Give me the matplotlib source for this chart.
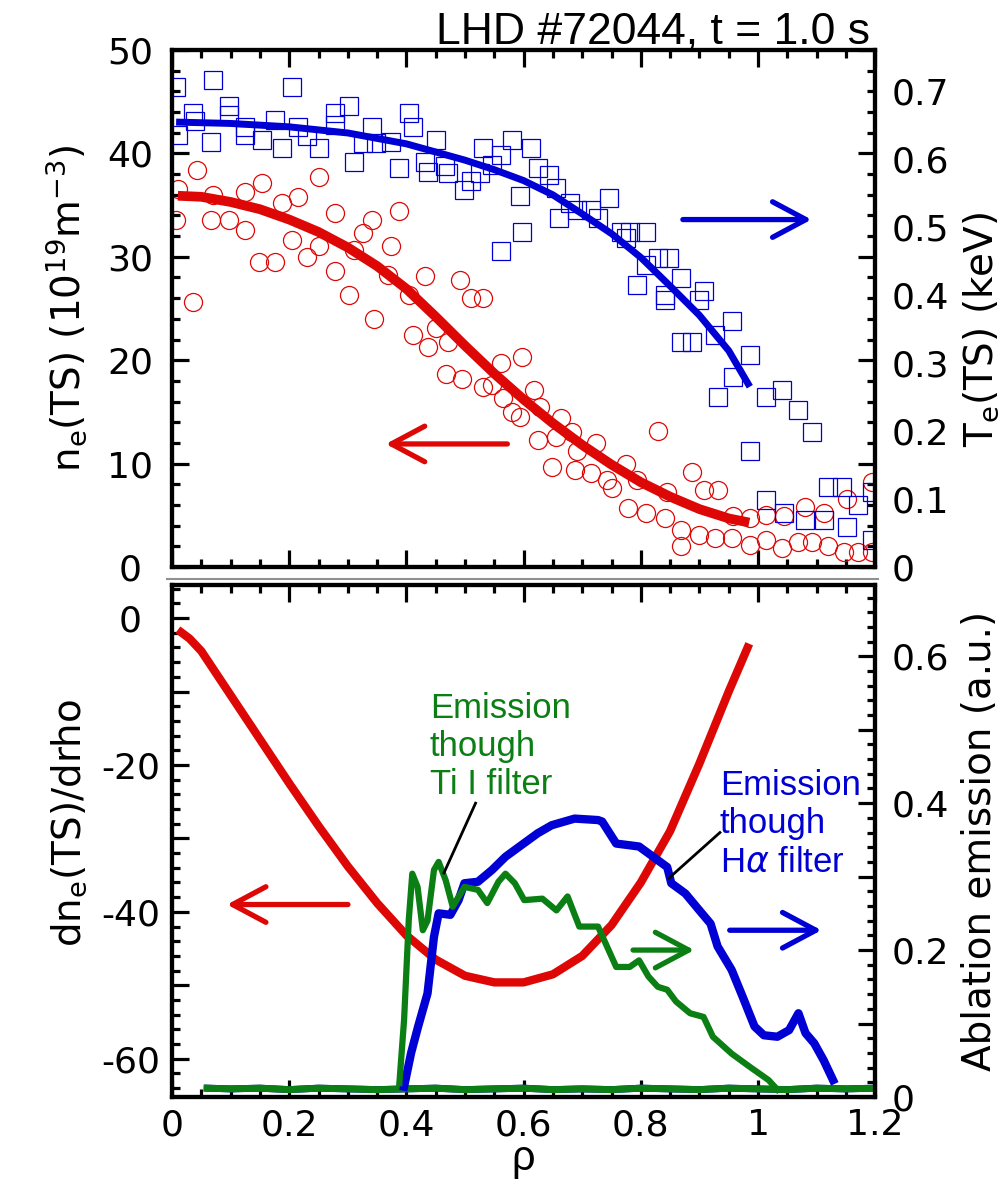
import numpy as np
import matplotlib
matplotlib.use("Agg")
import matplotlib.pyplot as plt
import matplotlib.ticker as ticker
from matplotlib.lines import Line2D

plt.rcParams['font.family'] = ['Liberation Sans', 'DejaVu Sans']

RED = "#DD0806"
BLUE = "#0000D4"
GREEN = "#0B7F14"
TICKFONT = 'DejaVu Sans'
LABELFONT = 'DejaVu Sans'

# ---- top panel: Thomson scattering data (rho, n_e) and (rho, T_e)
ne_rho = [0.042, 0.011, 0.007, 0.070, 0.066, 0.097, 0.125, 0.125, 0.153, 0.188, 0.215, 0.251,
          0.278, 0.341, 0.326, 0.388, 0.204, 0.231, 0.251, 0.149, 0.176, 0.278, 0.310, 0.373,
          0.432, 0.491, 0.302, 0.035, 0.510, 0.530, 0.404, 0.369, 0.345, 0.412, 0.436, 0.451,
          0.471, 0.561, 0.597, 0.467, 0.495, 0.530, 0.546, 0.565, 0.581, 0.593, 0.617, 0.628,
          0.664, 0.683, 0.656, 0.624, 0.691, 0.723, 0.648, 0.687, 0.715, 0.742, 0.750, 0.774,
          0.793, 0.778, 0.809, 0.829, 0.845, 0.841, 0.868, 0.868, 0.888, 0.900, 0.908, 0.931,
          0.927, 0.955, 0.958, 0.986, 0.986, 1.014, 1.014, 1.041, 1.045, 1.069, 1.081, 1.092,
          1.112, 1.120, 1.147, 1.151, 1.171, 1.194, 1.194]
ne_val = [38.4, 36.6, 33.6, 36.0, 33.6, 33.6, 32.6, 36.3, 37.1, 35.2, 35.8, 37.7,
          34.2, 33.6, 32.3, 34.4, 31.6, 30.0, 31.0, 29.5, 29.5, 28.6, 30.7, 31.0,
          28.1, 27.8, 26.3, 25.6, 26.0, 26.0, 26.3, 28.2, 24.0, 22.4, 21.3, 23.1,
          21.8, 19.7, 20.3, 18.7, 18.2, 17.4, 17.6, 16.3, 15.0, 14.5, 17.1, 15.5,
          14.4, 13.1, 12.6, 12.3, 11.2, 12.0, 9.7, 9.4, 9.1, 8.4, 7.6, 10.0,
          8.4, 5.7, 5.2, 13.2, 7.3, 4.7, 3.6, 2.0, 9.2, 3.1, 7.4, 7.4,
          2.8, 2.8, 4.9, 2.1, 4.7, 2.6, 5.0, 1.8, 4.9, 2.4, 5.8, 2.4,
          5.2, 2.0, 1.5, 6.6, 1.5, 8.2, 1.5]

te_rho = [0.007, 0.070, 0.204, 0.097, 0.035, 0.040, 0.011, 0.066, 0.097, 0.125, 0.125, 0.153,
          0.176, 0.188, 0.215, 0.231, 0.251, 0.278, 0.278, 0.302, 0.310, 0.326, 0.341, 0.348,
          0.373, 0.388, 0.404, 0.412, 0.432, 0.436, 0.451, 0.465, 0.471, 0.499, 0.510, 0.526,
          0.530, 0.546, 0.561, 0.581, 0.593, 0.613, 0.624, 0.644, 0.656, 0.660, 0.679, 0.691,
          0.715, 0.727, 0.746, 0.766, 0.782, 0.809, 0.774, 0.597, 0.561, 0.829, 0.848, 0.809,
          0.793, 0.868, 0.841, 0.908, 0.841, 0.900, 0.868, 0.888, 0.927, 0.955, 0.986, 0.958,
          0.931, 1.014, 1.041, 1.069, 1.092, 0.986, 1.120, 1.143, 1.014, 1.045, 1.081, 1.112,
          1.151, 1.171, 1.194, 1.194]
te_val = [0.706, 0.716, 0.706, 0.677, 0.667, 0.655, 0.635, 0.625, 0.665, 0.647, 0.635, 0.628,
          0.657, 0.616, 0.647, 0.633, 0.616, 0.667, 0.650, 0.677, 0.596, 0.623, 0.647, 0.623,
          0.625, 0.586, 0.667, 0.647, 0.596, 0.581, 0.628, 0.589, 0.579, 0.554, 0.567, 0.579,
          0.616, 0.591, 0.606, 0.628, 0.545, 0.616, 0.586, 0.576, 0.557, 0.513, 0.535, 0.525,
          0.525, 0.513, 0.542, 0.493, 0.493, 0.493, 0.483, 0.493, 0.464, 0.454, 0.454, 0.444,
          0.415, 0.425, 0.400, 0.405, 0.393, 0.393, 0.331, 0.331, 0.341, 0.361, 0.312, 0.280,
          0.250, 0.250, 0.260, 0.231, 0.199, 0.170, 0.118, 0.118, 0.099, 0.079, 0.069, 0.069,
          0.059, 0.091, 0.111, 0.040]

ne_fit_rho = [0.01, 0.05, 0.10, 0.15, 0.20, 0.25, 0.30, 0.35, 0.40, 0.45, 0.50, 0.55,
              0.60, 0.65, 0.70, 0.75, 0.80, 0.85, 0.90, 0.95, 0.985]
ne_fit_val = [35.9, 35.8, 35.3, 34.6, 33.6, 32.4, 30.9, 29.1, 26.9, 24.2, 21.4, 18.7,
              16.2, 13.9, 11.8, 9.9, 8.2, 6.8, 5.6, 4.7, 4.3]

te_fit_rho = [0.007, 0.10, 0.20, 0.30, 0.40, 0.45, 0.50, 0.55, 0.60, 0.65, 0.70, 0.75,
              0.80, 0.85, 0.90, 0.95, 0.986]
te_fit_val = [0.654, 0.652, 0.647, 0.638, 0.622, 0.610, 0.598, 0.584, 0.568, 0.547, 0.519, 0.490,
              0.455, 0.413, 0.370, 0.318, 0.265]

# ---- bottom panel: gradient and ablation emission
dn_rho = [0.01, 0.03, 0.05, 0.10, 0.15, 0.20, 0.25, 0.30, 0.35, 0.40, 0.45, 0.50,
          0.55, 0.60, 0.65, 0.70, 0.75, 0.80, 0.85, 0.90, 0.95, 0.985]
dn_val = [-1.6, -2.8, -4.5, -10.5, -16.5, -22.5, -28.3, -33.8, -38.8, -43.2, -46.5, -48.7,
          -49.6, -49.6, -48.5, -46.0, -41.8, -36.0, -29.0, -19.8, -10.0, -3.5]

ha_rho = [0.396, 0.408, 0.420, 0.436, 0.447, 0.455, 0.475, 0.489, 0.499, 0.522, 0.546,
          0.569, 0.593, 0.624, 0.648, 0.687, 0.727, 0.734, 0.758, 0.797, 0.821, 0.845,
          0.852, 0.876, 0.900, 0.919, 0.931, 0.955, 0.974, 0.994, 1.010, 1.033, 1.053,
          1.069, 1.081, 1.096, 1.112, 1.128]
ha_val = [0.014, 0.060, 0.096, 0.141, 0.218, 0.250, 0.248, 0.268, 0.291, 0.293, 0.309,
          0.327, 0.341, 0.359, 0.370, 0.379, 0.377, 0.375, 0.345, 0.341, 0.327, 0.313,
          0.291, 0.277, 0.254, 0.236, 0.205, 0.173, 0.136, 0.096, 0.084, 0.082, 0.091,
          0.114, 0.087, 0.073, 0.050, 0.023]

ti_rho = [0.388, 0.396, 0.404, 0.410, 0.419, 0.428, 0.436, 0.447, 0.455, 0.467, 0.479,
          0.499, 0.522, 0.538, 0.557, 0.569, 0.585, 0.601, 0.632, 0.656, 0.675, 0.695,
          0.727, 0.758, 0.781, 0.797, 0.813, 0.829, 0.845, 0.860, 0.884, 0.907, 0.923,
          0.955, 0.986, 1.018, 1.033]
ti_val = [0.019, 0.105, 0.241, 0.304, 0.286, 0.227, 0.240, 0.309, 0.320, 0.295, 0.259,
          0.286, 0.282, 0.264, 0.293, 0.304, 0.291, 0.268, 0.270, 0.254, 0.273, 0.232,
          0.232, 0.177, 0.177, 0.186, 0.164, 0.150, 0.146, 0.130, 0.114, 0.109, 0.082,
          0.059, 0.041, 0.023, 0.010]

base_rho = [0.06, 0.10, 0.15, 0.20, 0.25, 0.30, 0.35, 0.40, 0.45, 0.50, 0.55, 0.60,
            0.65, 0.70, 0.75, 0.80, 0.85, 0.90, 0.95, 1.00, 1.05, 1.10, 1.15, 1.20]
base_val = [0.012, 0.011, 0.012, 0.010, 0.012, 0.011, 0.010, 0.011, 0.012, 0.010, 0.011, 0.012,
            0.010, 0.011, 0.010, 0.012, 0.011, 0.010, 0.012, 0.011, 0.010, 0.012, 0.011, 0.012]


def style_x(ax):
    ax.set_xlim(0, 1.2)
    ax.xaxis.set_major_locator(ticker.MultipleLocator(0.2))
    ax.xaxis.set_minor_locator(ticker.MultipleLocator(0.05))
    ax.xaxis.set_major_formatter(ticker.FuncFormatter(lambda v, p: '0' if abs(v) < 1e-9 else ('1' if abs(v - 1) < 1e-9 else f'{v:.1f}')))
    ax.tick_params(axis='x', which='both', direction='in', top=True, bottom=True, width=2.3)
    ax.tick_params(axis='x', which='major', length=12, labelsize=26, pad=8, labelfontfamily=TICKFONT)
    ax.tick_params(axis='x', which='minor', length=6)
    for s in ax.spines.values():
        s.set_linewidth(3)


def frac_fmt(v, p):
    if abs(v) < 1e-9:
        return '0'
    return f'{v:.1f}'


arrow = dict(arrowstyle='->, head_length=0.6, head_width=0.32', lw=3.8, mutation_scale=40)

fig = plt.figure(figsize=(10.06, 11.84), dpi=100)
ax1 = fig.add_axes([0.171, 0.5211, 0.699, 0.4367])
ax2 = ax1.twinx()
ax3 = fig.add_axes([0.171, 0.0735, 0.699, 0.4324])
ax4 = ax3.twinx()

# ---- top panel
ax1.plot(ne_rho, ne_val, 'o', ms=13, mfc='none', mec=RED, mew=0.9)
ax1.plot(ne_fit_rho, ne_fit_val, '-', color=RED, lw=7, solid_capstyle='butt')
ax2.plot(te_rho, te_val, 's', ms=12.5, mfc='none', mec=BLUE, mew=0.9)
ax2.plot(te_fit_rho, te_fit_val, '-', color=BLUE, lw=5, solid_capstyle='butt')

style_x(ax1)
ax1.tick_params(axis='x', labelbottom=False)
ax1.set_ylim(0, 50)
ax1.yaxis.set_major_locator(ticker.MultipleLocator(10))
ax1.yaxis.set_minor_locator(ticker.MultipleLocator(2))
ax1.tick_params(axis='y', which='both', direction='in', left=True, right=True, width=2.3)
ax1.tick_params(axis='y', which='major', length=12, labelsize=26, pad=30, labelfontfamily=TICKFONT)
ax1.tick_params(axis='y', which='minor', length=6)
ax1.set_ylabel(r'n$_\mathregular{e}$(TS) (10$^\mathregular{19}$m$^\mathregular{-3}$)', fontsize=28, family=LABELFONT)
ax1.yaxis.set_label_coords(-0.118, 0.50)

ax2.set_ylim(0, 0.76)
ax2.yaxis.set_major_locator(ticker.MultipleLocator(0.1))
ax2.yaxis.set_major_formatter(ticker.FuncFormatter(frac_fmt))
ax2.tick_params(axis='y', which='both', length=0, labelsize=26, pad=12, labelfontfamily=TICKFONT)
ax2.set_ylabel(r'T$_\mathregular{e}$(TS) (keV)', fontsize=28, family=LABELFONT)
ax2.yaxis.set_label_coords(1.122, 0.46)
for s in ax2.spines.values():
    s.set_linewidth(3)

ax1.annotate('', xy=(0.36, 11.9), xytext=(0.577, 11.9), arrowprops=dict(color=RED, **arrow))
ax1.annotate('', xy=(1.096, 33.6), xytext=(0.867, 33.6), arrowprops=dict(color=BLUE, **arrow))

# ---- bottom panel
ax3.plot(dn_rho, dn_val, '-', color=RED, lw=6, solid_capstyle='butt')
style_x(ax3)
ax3.set_ylim(-65.2, 4.5)
ax3.yaxis.set_major_locator(ticker.MultipleLocator(10))
ax3.yaxis.set_minor_locator(ticker.MultipleLocator(2))
ax3.yaxis.set_major_formatter(ticker.FuncFormatter(lambda v, p: f'{v:g}' if abs(v % 20) < 1e-6 else ''))
ax3.tick_params(axis='y', which='both', direction='in', left=True, right=False, width=2.3)
ax3.tick_params(axis='y', which='major', length=12, labelsize=26, pad=30, labelfontfamily=TICKFONT)
ax3.tick_params(axis='y', which='minor', length=6)
ax3.set_ylabel(r'dn$_\mathregular{e}$(TS)/drho', fontsize=28, family=LABELFONT)
ax3.yaxis.set_label_coords(-0.118, 0.535)
ax3.set_xlabel('ρ', fontsize=30, labelpad=-2)

ax4.plot(base_rho, base_val, '-', color=BLUE, lw=5)
ax4.plot(base_rho, base_val, '-', color=GREEN, lw=5)
ax4.plot(ha_rho, ha_val, '-', color=BLUE, lw=6)
ax4.plot(ti_rho, ti_val, '-', color=GREEN, lw=4.5)
ax4.set_ylim(0, 0.697)
ax4.yaxis.set_major_locator(ticker.MultipleLocator(0.1))
ax4.yaxis.set_minor_locator(ticker.MultipleLocator(0.02))
ax4.yaxis.set_major_formatter(ticker.FuncFormatter(lambda v, p: ('0' if abs(v) < 1e-9 else f'{v:.1f}') if round(v * 10) % 2 == 0 else ''))
ax4.tick_params(axis='y', which='both', direction='in', width=2.3)
ax4.tick_params(axis='y', which='major', length=12, labelsize=26, pad=12, labelfontfamily=TICKFONT)
ax4.tick_params(axis='y', which='minor', length=6)
ax4.set_ylabel('Ablation emission (a.u.)', fontsize=28, family=LABELFONT)
ax4.yaxis.set_label_coords(1.122, 0.50)
for s in ax4.spines.values():
    s.set_linewidth(3)

ax3.annotate('', xy=(0.089, -39.0), xytext=(0.305, -39.0), arrowprops=dict(color=RED, **arrow))
ax4.annotate('', xy=(0.896, 0.2), xytext=(0.782, 0.2), arrowprops=dict(color=GREEN, **arrow))
ax4.annotate('', xy=(1.113, 0.227), xytext=(0.947, 0.227), arrowprops=dict(color=BLUE, **arrow))

ax4.text(0.44, 0.552, 'Emission\nthough\nTi I filter', color=GREEN, fontsize=25, ha='left', va='top')
ax4.text(0.935, 0.447, 'Emission\nthough\nH$\\alpha$ filter', color=BLUE, fontsize=25, ha='left', va='top')
ax4.plot([0.518, 0.464], [0.40, 0.305], '-', color='black', lw=2)
ax4.plot([0.935, 0.848], [0.36, 0.298], '-', color='black', lw=2)

for a in (ax1, ax3):
    plt.setp(a.get_yticklabels(), ha='center')

fig.add_artist(Line2D([0.166, 0.873], [1 - 579 / 1184, 1 - 579 / 1184], color='#909090', lw=1.5))
fig.text(0.865, 0.963, 'LHD #72044, t = 1.0 s', fontsize=32, ha='right', va='baseline')

fig.savefig('out.png', dpi=100)
